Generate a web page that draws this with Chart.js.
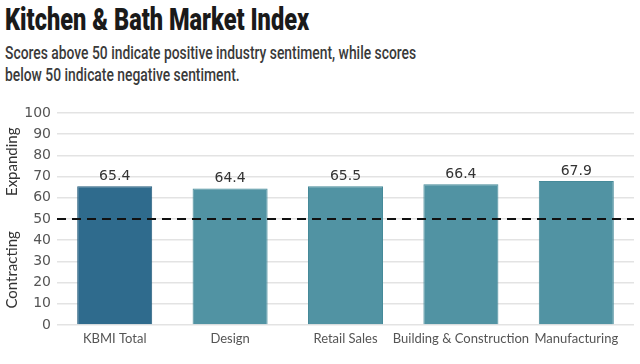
<!DOCTYPE html>
<html>
<head>
<meta charset="utf-8">
<script src="https://cdn.jsdelivr.net/npm/chart.js@4.4.0/dist/chart.umd.min.js"></script>
<style>
  html, body { margin: 0; padding: 0; background: #fff; width: 640px; height: 364px; overflow: hidden; }
  #title { position: absolute; left: 5px; top: 1px; font-family: "Roboto", sans-serif; font-weight: 900; font-size: 31px; color: #1a1a1a; white-space: nowrap; transform: scaleX(0.76); transform-origin: left top; }
  #subtitle { position: absolute; left: 5px; top: 42px; font-family: "Roboto", sans-serif; font-weight: 500; font-size: 18px; line-height: 22px; color: #3a3a3a; white-space: nowrap; transform: scaleX(0.77); transform-origin: left top; }
  #wrap { position: absolute; left: 0; top: 95px; width: 640px; height: 269px; }
</style>
</head>
<body>
<div id="title">Kitchen &amp; Bath Market Index</div>
<div id="subtitle">Scores above 50 indicate positive industry sentiment, while scores<br>below 50 indicate negative sentiment.</div>
<div id="wrap"><canvas id="c"></canvas></div>
<script>
const categories = ["KBMI Total", "Design", "Retail Sales", "Building & Construction", "Manufacturing"];
const scores = [65.4, 64.4, 65.5, 66.4, 67.9];
const yTicks = [0, 10, 20, 30, 40, 50, 60, 70, 80, 90, 100];
const threshold = 50;
const sideLabels = [{ text: "Expanding", value: 77 }, { text: "Contracting", value: 26 }];

const fills = ["#2f6b8d", "#5193a3", "#5193a3", "#5193a3", "#5193a3"];
const borders = ["#255c7c", "#468a99", "#468a99", "#468a99", "#468a99"];

const overlay = {
  id: "overlay",
  afterDatasetsDraw(chart) {
    const ctx = chart.ctx;
    const y = chart.scales.y;
    const area = chart.chartArea;
    ctx.save();
    ctx.strokeStyle = "#111";
    ctx.lineWidth = 2;
    ctx.setLineDash([9, 6]);
    const yy = Math.round(y.getPixelForValue(threshold));
    ctx.beginPath();
    ctx.moveTo(area.left, yy);
    ctx.lineTo(area.right, yy);
    ctx.stroke();
    ctx.restore();
    ctx.save();
    ctx.font = "14px 'DejaVu Sans', sans-serif";
    ctx.fillStyle = "#333";
    ctx.textAlign = "center";
    ctx.textBaseline = "bottom";
    chart.getDatasetMeta(0).data.forEach((bar, i) => {
      ctx.fillText(scores[i].toFixed(1), bar.x, bar.y - 3);
    });
    ctx.restore();
    ctx.save();
    ctx.font = "15px Lato, sans-serif";
    ctx.fillStyle = "#333";
    ctx.textAlign = "center";
    ctx.textBaseline = "middle";
    sideLabels.forEach(s => {
      ctx.save();
      ctx.translate(12, y.getPixelForValue(s.value));
      ctx.rotate(-Math.PI / 2);
      ctx.fillText(s.text, 0, 0);
      ctx.restore();
    });
    ctx.restore();
  }
};

new Chart(document.getElementById("c"), {
  type: "bar",
  data: {
    labels: categories,
    datasets: [{
      data: scores,
      backgroundColor: fills,
      borderColor: borders,
      borderWidth: 1,
      categoryPercentage: 1,
      barPercentage: 0.65
    }]
  },
  options: {
    responsive: true,
    maintainAspectRatio: false,
    animation: false,
    layout: { padding: { top: 18, right: 6, left: 0, bottom: 0 } },
    plugins: { legend: { display: false }, tooltip: { enabled: false } },
    scales: {
      x: {
        grid: { display: false, drawTicks: false },
        border: { display: false },
        ticks: { color: "#555", font: { family: "Lato", size: 13 }, padding: 6, maxRotation: 0, autoSkip: false },
        afterFit(s) { s.height = 39; }
      },
      y: {
        min: 0, max: 100,
        afterBuildTicks(s) { s.ticks = yTicks.map(v => ({ value: v })); },
        grid: { color: "#e3e3e3", lineWidth: 1.5, drawTicks: false },
        border: { display: false },
        ticks: { color: "#555", font: { family: "DejaVu Sans", size: 14 }, padding: 6, autoSkip: false },
        afterFit(s) { s.width = 57; }
      }
    }
  },
  plugins: [overlay]
});
</script>
</body>
</html>
